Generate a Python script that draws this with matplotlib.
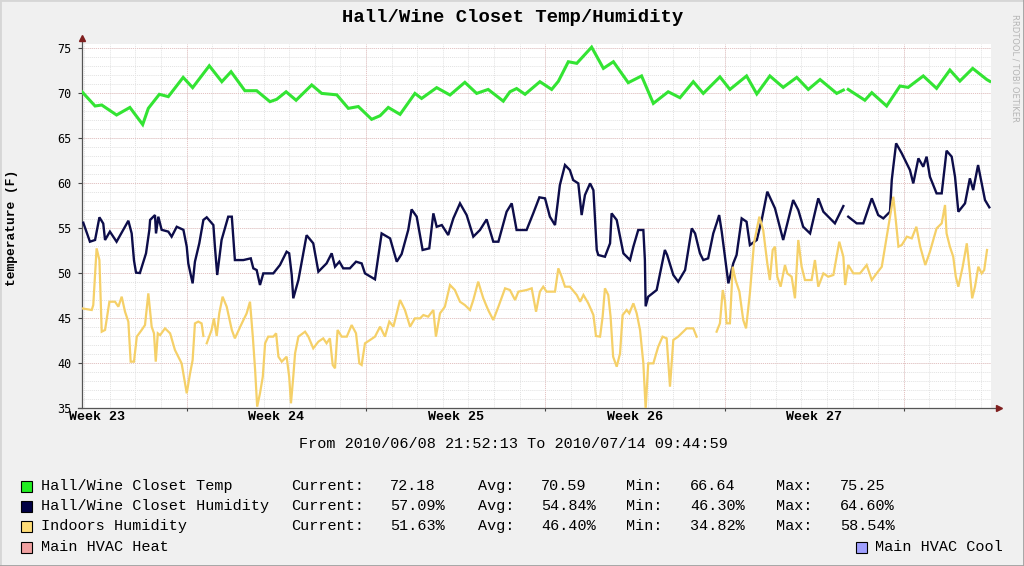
from datetime import datetime, timedelta

import matplotlib
matplotlib.use('Agg')
import matplotlib.pyplot as plt
import numpy as np
from matplotlib.lines import Line2D
from matplotlib.patches import Rectangle

nan = float('nan')

start = datetime(2010, 6, 8, 21, 52, 13)
end = datetime(2010, 7, 14, 9, 44, 59)

# (days since start, value)
closet_temp = [
    (0.0, 70.14), (0.51, 68.56), (0.77, 68.67), (1.35, 67.56), (1.87, 68.4), (2.37, 66.5),
    (2.59, 68.3), (3.02, 69.86), (3.37, 69.6), (3.95, 71.74), (4.32, 70.6), (4.97, 73.03),
    (5.46, 71.26), (5.82, 72.37), (6.36, 70.26), (6.82, 70.26), (7.34, 69.04), (7.60, 69.3),
    (7.97, 70.14), (8.36, 69.2), (8.97, 70.9), (9.36, 69.96), (9.95, 69.8), (10.40, 68.3),
    (10.79, 68.5), (11.31, 67.08), (11.64, 67.48), (11.96, 68.4), (12.42, 67.63), (13.00, 69.96),
    (13.26, 69.4), (13.85, 70.6), (14.37, 69.78), (14.95, 71.19), (15.41, 69.96), (15.86, 70.4),
    (16.45, 69.1), (16.71, 70.14), (16.97, 70.5), (17.30, 69.86), (17.88, 71.26), (18.34, 70.4),
    (18.60, 71.3), (18.99, 73.48), (19.32, 73.3), (19.90, 75.1), (20.36, 72.74), (20.75, 73.48),
    (21.33, 71.15), (21.85, 71.9), (22.31, 68.85), (22.89, 70.14), (23.35, 69.48), (23.87, 71.26),
    (24.26, 69.96), (24.91, 71.8), (25.30, 70.4), (25.95, 71.9), (26.35, 69.9), (26.86, 71.9),
    (27.38, 70.63), (27.91, 71.74), (28.36, 70.4), (28.82, 71.5), (29.47, 69.96), (29.73, 70.33),
    (29.85, nan), (29.92, 70.4), (30.57, 69.2), (30.84, 70.04), (31.42, 68.56), (31.94, 70.78),
    (32.26, 70.63), (32.85, 71.9), (33.37, 70.52), (33.89, 72.56), (34.28, 71.33), (34.78, 72.74),
    (35.33, 71.5), (35.45, 71.3),
]

closet_humidity = [
    (0.05, 55.59), (0.31, 53.48), (0.51, 53.67), (0.68, 56.19), (0.83, 55.5), (0.90, 53.67),
    (1.09, 54.6), (1.35, 53.48), (1.81, 55.81), (1.94, 54.4), (2.03, 51.4), (2.11, 50.04),
    (2.26, 50.0), (2.50, 52.19), (2.63, 54.8), (2.66, 55.9), (2.85, 56.44), (2.89, 54.4),
    (2.98, 56.26), (3.11, 54.8), (3.37, 54.6), (3.50, 54.04), (3.70, 55.14), (3.96, 54.8),
    (4.09, 52.93), (4.15, 51.07), (4.32, 48.85), (4.41, 51.26), (4.58, 53.3), (4.74, 55.9),
    (4.87, 56.19), (5.13, 55.33), (5.19, 52.93), (5.28, 49.78), (5.45, 53.67), (5.71, 56.26),
    (5.85, 56.26), (5.97, 51.44), (6.04, 51.44), (6.30, 51.44), (6.59, 51.63), (6.69, 50.52),
    (6.82, 50.33), (6.95, 48.67), (7.08, 49.96), (7.47, 49.96), (7.73, 50.89), (7.99, 52.37),
    (8.09, 52.19), (8.19, 49.78), (8.25, 47.19), (8.45, 49.22), (8.77, 54.2), (9.03, 53.3),
    (9.23, 50.15), (9.55, 51.07), (9.75, 52.19), (9.88, 50.7), (10.05, 51.26), (10.20, 50.52),
    (10.46, 50.52), (10.70, 51.26), (10.92, 51.07), (11.05, 49.96), (11.44, 49.3), (11.70, 54.4),
    (12.03, 53.85), (12.29, 51.26), (12.48, 52.1), (12.74, 54.8), (12.87, 57.07), (13.07, 56.26),
    (13.30, 52.56), (13.56, 52.74), (13.72, 56.63), (13.85, 55.14), (14.05, 55.33), (14.30, 54.22),
    (14.50, 56.07), (14.76, 57.74), (15.02, 56.44), (15.28, 54.04), (15.54, 54.78), (15.80, 55.96),
    (16.06, 53.48), (16.26, 53.48), (16.58, 56.81), (16.78, 57.74), (16.97, 54.78), (17.36, 54.78),
    (17.62, 56.63), (17.86, 58.41), (18.08, 58.3), (18.27, 56.26), (18.47, 55.33), (18.66, 59.78),
    (18.86, 62.0), (19.05, 61.44), (19.18, 60.33), (19.38, 59.96), (19.51, 56.44), (19.64, 58.67),
    (19.84, 59.96), (19.97, 59.2), (20.10, 52.56), (20.16, 52.0), (20.42, 51.81), (20.62, 53.3),
    (20.68, 56.63), (20.88, 55.89), (21.14, 52.19), (21.27, 51.81), (21.40, 51.44), (21.53, 52.93),
    (21.72, 54.78), (21.92, 54.78), (21.98, 51.44), (22.01, 46.3), (22.11, 47.37), (22.44, 48.11),
    (22.76, 52.56), (22.85, 52.0), (23.09, 49.78), (23.28, 49.04), (23.55, 50.33), (23.81, 54.96),
    (23.94, 54.4), (24.13, 52.19), (24.26, 51.44), (24.45, 51.63), (24.65, 54.4), (24.78, 55.52),
    (24.88, 56.44), (24.98, 54.6), (25.24, 48.85), (25.43, 51.07), (25.56, 52.0), (25.76, 56.07),
    (25.95, 55.7), (26.08, 53.11), (26.35, 53.67), (26.54, 55.89), (26.76, 59.04), (27.06, 57.19),
    (27.38, 53.67), (27.77, 58.11), (27.97, 57.0), (28.16, 55.14), (28.43, 54.4), (28.75, 58.3),
    (28.95, 56.81), (29.40, 55.52), (29.73, 57.44), (29.85, nan), (29.92, 56.26), (30.25, 55.52),
    (30.51, 55.52), (30.84, 58.3), (31.09, 56.44), (31.29, 56.07), (31.55, 56.81), (31.62, 60.33),
    (31.68, 61.81), (31.79, 64.41), (32.01, 63.3), (32.33, 61.44), (32.46, 59.96), (32.66, 62.74),
    (32.85, 61.81), (32.98, 62.93), (33.11, 60.7), (33.37, 58.85), (33.57, 58.85), (33.76, 63.59),
    (33.96, 62.93), (34.09, 60.7), (34.22, 56.81), (34.48, 57.74), (34.67, 60.52), (34.80, 59.22),
    (34.99, 62.0), (35.13, 59.96), (35.26, 58.11), (35.43, 57.3),
]

indoors_humidity = [
    (0.0, 46.07), (0.38, 45.89), (0.44, 46.44), (0.57, 52.74), (0.68, 51.44), (0.77, 43.48),
    (0.90, 43.67), (1.07, 46.81), (1.29, 46.81), (1.42, 46.26), (1.55, 47.37), (1.68, 45.7),
    (1.81, 44.59), (1.90, 40.15), (2.03, 40.15), (2.14, 42.93), (2.33, 43.67), (2.46, 44.22),
    (2.59, 47.74), (2.72, 44.04), (2.81, 43.3), (2.88, 40.15), (2.96, 43.3), (3.05, 43.1),
    (3.24, 43.85), (3.44, 43.3), (3.63, 41.44), (3.89, 39.96), (4.09, 36.63), (4.22, 38.85),
    (4.32, 40.33), (4.41, 44.4), (4.54, 44.6), (4.67, 44.4), (4.74, 43.0), (4.80, nan),
    (4.87, 42.19), (5.06, 43.67), (5.15, 44.96), (5.26, 43.0), (5.36, 45.52), (5.49, 47.37),
    (5.65, 46.26), (5.85, 43.67), (5.97, 42.74), (6.24, 44.4), (6.43, 45.52), (6.56, 46.81),
    (6.67, 42.93), (6.76, 39.22), (6.84, 35.15), (6.95, 36.63), (7.06, 38.48), (7.15, 42.19),
    (7.27, 42.93), (7.47, 42.93), (7.58, 43.3), (7.67, 40.7), (7.80, 40.15), (7.99, 40.7),
    (8.09, 38.48), (8.16, 35.52), (8.25, 38.48), (8.32, 41.07), (8.45, 42.93), (8.71, 43.48),
    (8.84, 42.93), (9.03, 41.63), (9.23, 42.37), (9.42, 42.74), (9.55, 42.19), (9.68, 42.74),
    (9.79, 39.78), (9.88, 39.41), (9.98, 43.67), (10.14, 42.93), (10.34, 42.93), (10.53, 44.22),
    (10.70, 43.3), (10.83, 39.96), (10.92, 39.78), (11.05, 42.19), (11.25, 42.56), (11.44, 42.93),
    (11.64, 44.04), (11.83, 42.93), (12.00, 44.6), (12.16, 44.04), (12.42, 47.0), (12.61, 45.89),
    (12.81, 44.04), (13.00, 44.96), (13.20, 44.96), (13.33, 45.33), (13.52, 45.15), (13.72, 45.89),
    (13.82, 42.93), (13.98, 45.52), (14.17, 46.26), (14.37, 48.67), (14.56, 48.11), (14.76, 46.81),
    (14.95, 46.44), (15.15, 45.89), (15.28, 47.0), (15.47, 49.04), (15.67, 47.19), (15.86, 45.89),
    (16.06, 44.78), (16.26, 46.26), (16.52, 48.3), (16.71, 48.11), (16.91, 47.0), (17.04, 47.93),
    (17.36, 48.11), (17.56, 48.3), (17.73, 45.7), (17.88, 47.93), (18.01, 48.48), (18.14, 47.93),
    (18.47, 47.93), (18.60, 50.52), (18.73, 49.59), (18.86, 48.48), (19.05, 48.48), (19.32, 47.56),
    (19.45, 46.81), (19.58, 47.56), (19.77, 46.63), (19.97, 45.33), (20.07, 43.0), (20.23, 42.93),
    (20.33, 45.15), (20.42, 48.3), (20.55, 47.56), (20.64, 45.15), (20.74, 40.7), (20.88, 39.59),
    (21.01, 41.07), (21.11, 45.33), (21.27, 45.89), (21.37, 45.52), (21.53, 46.63), (21.66, 45.52),
    (21.79, 43.67), (21.92, 39.96), (22.01, 34.9), (22.11, 39.96), (22.31, 39.96), (22.50, 41.81),
    (22.67, 42.93), (22.83, 42.74), (22.96, 37.37), (23.09, 42.56), (23.28, 42.93), (23.61, 43.85),
    (23.87, 43.85), (24.00, 42.93), (24.30, nan), (24.78, 43.48), (24.91, 44.41), (25.02, 48.11),
    (25.11, 46.81), (25.17, 44.41), (25.30, 44.41), (25.41, 50.7), (25.52, 49.22), (25.67, 47.93),
    (25.82, 44.78), (25.93, 43.85), (26.08, 47.74), (26.24, 53.3), (26.45, 56.26), (26.60, 54.78),
    (26.76, 51.07), (26.86, 49.22), (26.97, 52.56), (27.06, 52.93), (27.15, 49.59), (27.28, 48.48),
    (27.45, 50.89), (27.54, 49.96), (27.71, 49.59), (27.84, 47.19), (27.97, 53.67), (28.10, 50.7),
    (28.23, 49.22), (28.49, 49.22), (28.62, 51.44), (28.75, 48.48), (28.95, 49.96), (29.14, 49.59),
    (29.34, 49.78), (29.57, 53.48), (29.73, 51.81), (29.80, 48.67), (29.92, 50.89), (30.12, 49.96),
    (30.38, 49.96), (30.64, 50.89), (30.84, 49.22), (31.03, 49.96), (31.23, 50.7), (31.36, 52.93),
    (31.55, 56.26), (31.68, 58.48), (31.79, 55.52), (31.88, 52.93), (32.01, 53.11), (32.21, 54.04),
    (32.40, 53.85), (32.58, 55.14), (32.73, 52.93), (32.93, 50.89), (33.11, 52.37), (33.37, 54.96),
    (33.57, 55.52), (33.70, 57.56), (33.76, 54.4), (33.89, 52.93), (34.02, 51.81), (34.12, 49.59),
    (34.22, 48.48), (34.39, 50.7), (34.55, 53.3), (34.67, 49.96), (34.76, 47.19), (34.87, 48.48),
    (35.00, 50.7), (35.13, 49.96), (35.23, 50.33), (35.34, 52.56),
]

legend_names = ['Hall/Wine Closet Temp', 'Hall/Wine Closet Humidity', 'Indoors Humidity']
legend_current = ['72.18', '57.09%', '51.63%']
legend_avg = ['70.59', '54.84%', '46.40%']
legend_min = ['66.64', '46.30%', '34.82%']
legend_max = ['75.25', '64.60%', '58.54%']

line_colors = ['#33e433', '#0d0d4a', '#f5d068']
swatch_colors = ['#22ee22', '#000044', '#ffdd77']
heat_color = '#f0a0a0'
cool_color = '#a0a0ff'

W, H = 1024, 566
MONO = 'Liberation Mono'

fig = plt.figure(figsize=(W / 100, H / 100), dpi=100)
fig.patch.set_facecolor('#f0f0f0')

# plot canvas
span = (end - start).total_seconds() / 86400
ax = fig.add_axes([82 / W, 158 / H, (991 - 82) / W, 364 / H])
ax.set_xlim(0, span)
ax.set_ylim(35, 75.45)
ax.set_facecolor('white')
for s in ax.spines.values():
    s.set_visible(False)

# grid: daily midnights (minor), sundays (major)
first_mid = (datetime(2010, 6, 9) - start).total_seconds() / 86400
midnights = first_mid + np.arange(0, 40)
midnights = midnights[midnights < span]
first_sun = (datetime(2010, 6, 13) - start).total_seconds() / 86400
sundays = first_sun + 7 * np.arange(0, 6)
sundays = sundays[sundays < span]

dots = (0, (1, 1))
ax.vlines(midnights, 35, 75.45, colors='#e2e2e2', linestyles=dots, lw=0.7, zorder=0)
ax.hlines(np.arange(36, 76), 0, span, colors='#e2e2e2', linestyles=dots, lw=0.7, zorder=0)
ax.vlines(sundays, 35, 75.45, colors='#e6c2c2', linestyles=dots, lw=0.7, zorder=0.5)
ax.hlines(np.arange(40, 76, 5), 0, span, colors='#e6c2c2', linestyles=dots, lw=0.7, zorder=0.5)

# data lines
for series, c, lw in zip([closet_temp, closet_humidity, indoors_humidity], line_colors, [2.2, 1.7, 1.6]):
    d = np.array(series)
    ax.plot(d[:, 0], d[:, 1], color=c, lw=lw, solid_joinstyle='miter', zorder=3)

# y ticks
ax.set_yticks(np.arange(35, 76, 5))
ax.set_yticklabels([str(v) for v in range(35, 76, 5)], family='DejaVu Sans Mono', fontsize=8.5)
ax.tick_params(axis='y', length=3, width=0.8, color='#444444', pad=4.3)

# week labels at mid-week
week_mid = [datetime(2010, 6, 9, 12) + timedelta(days=7 * k) for k in range(5)]
week_pos = [(d - start).total_seconds() / 86400 for d in week_mid]
ax.set_xticks(week_pos)
ax.set_xticklabels(['Week %d' % d.isocalendar()[1] for d in week_mid],
                   family=MONO, fontweight='bold', fontsize=9.6)
ax.tick_params(axis='x', length=0, pad=2)
ax.set_xticks(sundays, minor=True)
ax.tick_params(axis='x', which='minor', length=2, width=0.8, color='#444444')

# axes lines with arrows
top = 1 + 6 / 364
ax.add_line(Line2D([0, 0], [0, top], transform=ax.transAxes, color='#555555', lw=0.9, clip_on=False))
ax.add_line(Line2D([-4 / 909, 1 + 8 / 909], [0, 0], transform=ax.transAxes, color='#555555', lw=0.9, clip_on=False))
ax.plot([0], [top], marker='^', ms=4, color='#7f1f1f', transform=ax.transAxes, clip_on=False)
ax.plot([1 + 8 / 909], [0], marker='>', ms=4, color='#7f1f1f', transform=ax.transAxes, clip_on=False)

# titles
fig.text(513 / W, 1 - 17 / H, 'Hall/Wine Closet Temp/Humidity', family=MONO, fontweight='bold',
         fontsize=13.6, ha='center', va='center')
fig.text(12 / W, 1 - 228 / H, 'temperature (F)', family=MONO, fontweight='bold', fontsize=9.3,
         rotation=90, ha='center', va='center')
fig.text(513 / W, 1 - 444 / H, 'From %s To %s' % (start.strftime('%Y/%m/%d %H:%M:%S'),
                                                 end.strftime('%Y/%m/%d %H:%M:%S')),
         family=MONO, fontsize=10.9, ha='center', va='center')
fig.text(1015 / W, 1 - 68 / H, 'RRDTOOL / TOBI OETIKER', color='#b5b5b5', fontsize=6,
         rotation=270, ha='center', va='center')


def swatch(x, y, color):
    fig.add_artist(Rectangle((x / W, 1 - (y + 5.5) / H), 11 / W, 11 / H, transform=fig.transFigure,
                             facecolor=color, edgecolor='black', lw=0.8))


def label(x, y, s):
    fig.text(x / W, 1 - y / H, s, family=MONO, fontsize=10.9, ha='left', va='center')


rows_y = [486, 506, 526, 547]
for i in range(3):
    y = rows_y[i]
    swatch(21, y, swatch_colors[i])
    label(41, y, legend_names[i])
    label(291, y, 'Current:')
    label(390, y, legend_current[i])
    label(478, y, 'Avg:')
    label(541, y, legend_avg[i])
    label(626, y, 'Min:')
    label(690, y, legend_min[i])
    label(776, y, 'Max:')
    label(840, y, legend_max[i])

swatch(21, rows_y[3], heat_color)
label(41, rows_y[3], 'Main HVAC Heat')
swatch(856, rows_y[3], cool_color)
label(875, rows_y[3], 'Main HVAC Cool')

# outer bevel
fig.add_artist(Line2D([0, 0, 1], [0, 1, 1], transform=fig.transFigure, color='#d6d6d6', lw=2))
fig.add_artist(Line2D([0, 1, 1], [0, 0, 1], transform=fig.transFigure, color='#a0a0a0', lw=2))

fig.savefig('out.png', dpi=100, facecolor=fig.get_facecolor())
